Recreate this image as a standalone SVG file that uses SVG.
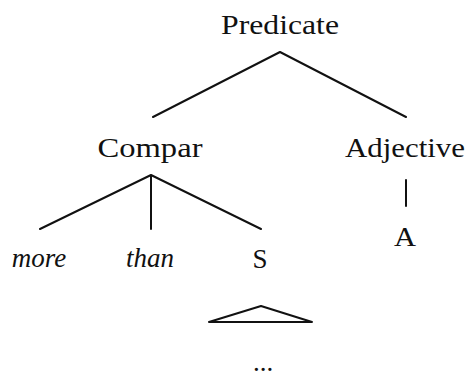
<svg xmlns="http://www.w3.org/2000/svg" width="471" height="377" viewBox="0 0 471 377">
<style>
text{font-family:"Liberation Serif","Times New Roman",serif;font-size:27px;fill:#111;text-anchor:middle}
.it{font-style:italic}
.e{stroke:#111;stroke-width:2;fill:none;stroke-linecap:round;stroke-linejoin:round}
</style>
<rect width="471" height="377" fill="#fff"/>
<g id="connectors">
<path class="e" d="M153,117 L280,52 L406,117"/>
<path class="e" d="M40,229 L151,175 L261,229 M151,175 L151,229"/>
<path class="e" d="M406,180 L406,206"/>
<path class="e" d="M209,322 L261,306 L312,322 Z"/>
</g>
<g id="n-predicate"><text x="280" y="34" textLength="118" lengthAdjust="spacingAndGlyphs">Predicate</text></g>
<g id="n-compar"><text x="150" y="157" textLength="105" lengthAdjust="spacingAndGlyphs">Compar</text></g>
<g id="n-adjective"><text x="405" y="157" textLength="120" lengthAdjust="spacingAndGlyphs">Adjective</text></g>
<g id="n-more"><text class="it" x="39" y="267">more</text></g>
<g id="n-than"><text class="it" x="150" y="267">than</text></g>
<g id="n-s"><text x="260" y="268">S</text></g>
<g id="n-a"><text x="405" y="246" textLength="22" lengthAdjust="spacingAndGlyphs">A</text></g>
<g id="n-dots"><text x="263" y="371">...</text></g>
</svg>
